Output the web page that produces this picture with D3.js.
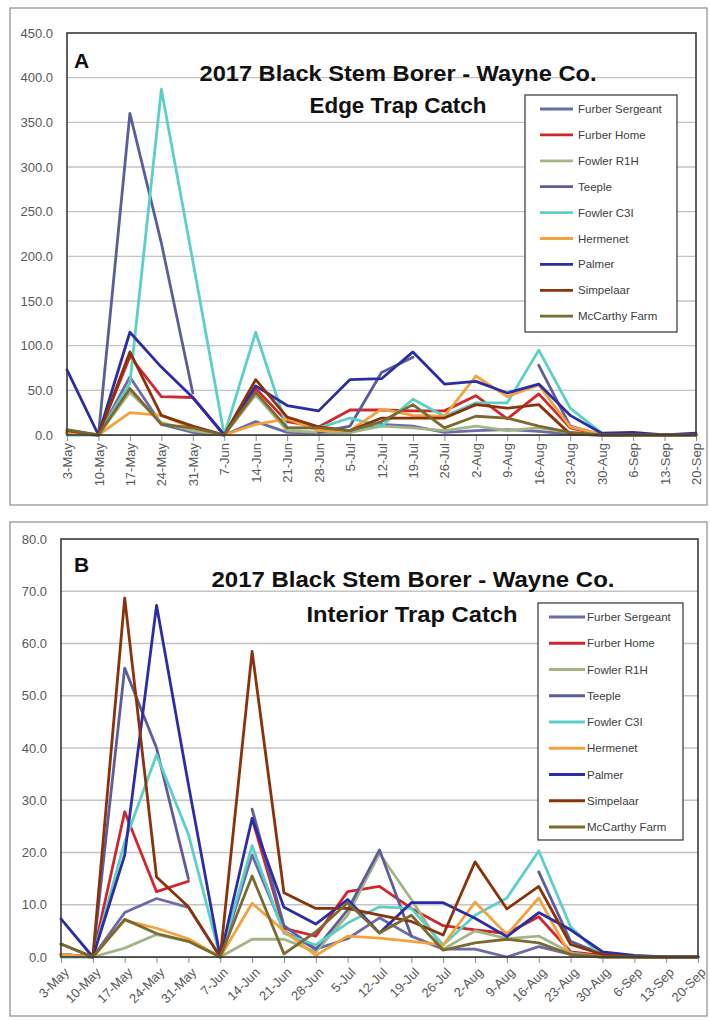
<!DOCTYPE html>
<html><head><meta charset="utf-8">
<script src="https://cdn.jsdelivr.net/npm/d3@7"></script>
<style>body{margin:0;background:#fff}svg{display:block}</style>
</head><body>
<svg id="chart" width="710" height="1021"></svg>
<script>
// ---------- DATA ----------
const dates = ["3-May","10-May","17-May","24-May","31-May","7-Jun","14-Jun","21-Jun","28-Jun","5-Jul","12-Jul","19-Jul","26-Jul","2-Aug","9-Aug","16-Aug","23-Aug","30-Aug","6-Sep","13-Sep","20-Sep"];
const seriesNames = ["Furber Sergeant","Furber Home","Fowler R1H","Teeple","Fowler C3I","Hermenet","Palmer","Simpelaar","McCarthy Farm"];
const seriesColors = ["#6b6bab","#d2262c","#a3b585","#5d5d9b","#5ccfc6","#f3a23c","#2c2ca6","#8a3209","#7b6a2f"];

// Edge trap catch (panel A)
const edgeFurberSergeant = [3,0,65,12,3,0,15,3,2,3,12,10,3,5,6,4,1,0,0,0,0];
const edgeFurberHome     = [2,0,88,43,42,0,52,15,9,28,28,27,27,44,18,46,8,0,0,0,0];
const edgeFowlerR1H      = [2,0,48,14,5,0,45,5,3,3,10,8,5,10,5,8,3,0,0,0,0];
const edgeTeeple         = [2,0,360,215,47,null,null,null,3,10,70,87,null,null,null,78,10,0,0,0,0];
const edgeFowlerC3I      = [0,0,58,387,195,0,115,8,8,19,10,40,21,36,36,95,30,2,0,0,0];
const edgeHermenet       = [2,0,25,22,8,0,12,18,5,5,29,22,21,66,43,56,9,1,0,0,0];
const edgePalmer         = [73,0,115,76,42,0,55,33,27,62,63,93,57,60,47,57,22,2,3,0,2];
const edgeSimpelaar      = [5,0,93,22,10,0,62,20,9,5,19,19,19,34,30,34,1,0,0,0,0];
const edgeMcCarthyFarm   = [6,0,52,12,8,0,48,8,8,5,15,34,8,21,19,10,3,0,0,0,0];

// Interior trap catch (panel B)
const intFurberSergeant = [0.5,0,8.5,11.2,9.5,0,19.5,5,1.5,3.5,7.5,4,1.5,1.5,0,2,0.5,0,0,0,0];
const intFurberHome     = [0.5,0,27.8,12.5,14.5,null,26.5,5.5,4,12.5,13.5,9.3,6,5.2,4.5,7.7,1,0.3,0,0,0];
const intFowlerR1H      = [0.5,0,1.7,4.3,3,0,3.4,3.4,1,8,19.8,11,1.5,5,3.5,4,0.8,0,0,0,0];
const intTeeple         = [0.5,0,55.3,40,15,null,28.3,6,1.5,9,20.5,4,null,null,null,16.3,3,0.5,0,0,0];
const intFowlerC3I      = [0,0,22,38.7,23.5,0,21.3,4.5,2.3,6.5,9.6,9.3,2.3,8,11.3,20.3,5.8,0,0,0,0];
const intHermenet       = [0.5,0,7,5.5,3.5,0,10.3,5,0.3,4,3.6,3,2.3,10.5,4.3,11.3,0.2,0,0,0,0];
const intPalmer         = [7.3,0,19.5,67.3,33,0,26.5,9.5,6.3,11,4.6,10.4,10.4,7.4,3.9,8.5,5.2,1,0.3,0,0];
const intSimpelaar      = [2.5,0,68.7,15.3,9.6,0,58.5,12.3,9.3,9.3,8,6.8,4.2,18.2,9.2,13.5,2.4,0.5,0,0,0];
const intMcCarthyFarm   = [2.5,0,7.2,4.5,3,0,15.5,0.6,4.8,10.4,4.6,8,1.3,2.7,3.4,2.7,0.5,0,0,0,0];

const titleLine1 = "2017 Black Stem Borer - Wayne Co.";
const edgeTitle2 = "Edge Trap Catch";
const intTitle2 = "Interior Trap Catch";

// ---------- LAYOUT ----------
const panels = [
  { letter:"A", series:[edgeFurberSergeant,edgeFurberHome,edgeFowlerR1H,edgeTeeple,edgeFowlerC3I,edgeHermenet,edgePalmer,edgeSimpelaar,edgeMcCarthyFarm],
    frame:{x:10,y:8,w:697,h:497}, plot:{l:67,t:33,r:696,b:435}, yMax:450, yStep:50, rot:-90,
    t1:{cx:398,y:81,w:397}, t2:{text:edgeTitle2,cx:398,y:113,w:177}, letterPos:{x:74,y:68},
    legend:{x:525,y:95,w:152,h:237,row0:109,dy:25.9,l0:540,l1:573,tx:578} },
  { letter:"B", series:[intFurberSergeant,intFurberHome,intFowlerR1H,intTeeple,intFowlerC3I,intHermenet,intPalmer,intSimpelaar,intMcCarthyFarm],
    frame:{x:10,y:522,w:697,h:494}, plot:{l:61,t:539,r:698,b:957}, yMax:80, yStep:10, rot:-45,
    t1:{cx:413,y:587,w:403}, t2:{text:intTitle2,cx:412,y:622,w:211}, letterPos:{x:74,y:572},
    legend:{x:538,y:603,w:145,h:237,row0:617,dy:26.25,l0:549,l1:585,tx:587} }
];

const svg = d3.select("#chart");
svg.append("rect").attr("width",710).attr("height",1021).attr("fill","#fff");
const FONT = "'Liberation Sans', Arial, sans-serif";

panels.forEach(p => {
  const g = svg.append("g");
  g.append("rect").attr("x",p.frame.x).attr("y",p.frame.y).attr("width",p.frame.w).attr("height",p.frame.h)
    .attr("fill","#fff").attr("stroke","#8c8c8c").attr("stroke-width",1.2);

  const x = d3.scalePoint().domain(dates).range([p.plot.l, p.plot.r]);
  const y = d3.scaleLinear().domain([0,p.yMax]).range([p.plot.b, p.plot.t]);

  // gridlines
  g.append("g").selectAll("line").data(d3.range(p.yStep, p.yMax, p.yStep)).join("line")
    .attr("x1",p.plot.l).attr("x2",p.plot.r).attr("y1",d=>y(d)).attr("y2",d=>y(d))
    .attr("stroke","#c4c4c4").attr("stroke-width",1.3);

  // y axis labels
  const ya = g.append("g").attr("transform",`translate(${p.plot.l},0)`)
    .call(d3.axisLeft(y).tickValues(d3.range(0,p.yMax+1,p.yStep)).tickFormat(d3.format(".1f")).tickSize(0).tickPadding(14));
  ya.select(".domain").remove();
  ya.selectAll("text").attr("fill","#595959").style("font-family",FONT).style("font-size","13px");

  // x axis
  const xa = g.append("g").attr("transform",`translate(0,${p.plot.b})`)
    .call(d3.axisBottom(x).tickSize(6));
  xa.select(".domain").attr("stroke","#8c8c8c");
  xa.selectAll(".tick line").attr("stroke","#8c8c8c");
  const xt = xa.selectAll("text").attr("fill","#595959").style("font-family",FONT).style("font-size","13px")
    .attr("text-anchor","end");
  if (p.rot === -90) {
    xt.attr("transform","rotate(-90)").attr("x",-8).attr("y",0).attr("dy","0.35em");
  } else {
    xt.attr("transform","translate(5,13) rotate(-45)").attr("x",0).attr("y",0).attr("dy","0.35em");
  }

  // series lines
  const line = d3.line().defined(d => d.v !== null).x(d => x(d.k)).y(d => y(d.v));
  p.series.forEach((vals, i) => {
    g.append("path").datum(dates.map((k,j)=>({k, v: vals[j]})))
      .attr("d", line).attr("fill","none").attr("stroke", seriesColors[i])
      .attr("stroke-width",2.8).attr("stroke-linejoin","round").attr("stroke-linecap","round");
  });

  // plot border
  g.append("rect").attr("x",p.plot.l).attr("y",p.plot.t).attr("width",p.plot.r-p.plot.l).attr("height",p.plot.b-p.plot.t)
    .attr("fill","none").attr("stroke","#3a3a3a").attr("stroke-width",1.6);

  // titles
  g.append("text").attr("x",p.t1.cx).attr("y",p.t1.y).attr("text-anchor","middle")
    .attr("textLength",p.t1.w).attr("lengthAdjust","spacingAndGlyphs")
    .style("font-family",FONT).style("font-weight","bold").style("font-size","22px").attr("fill","#111")
    .text(titleLine1);
  g.append("text").attr("x",p.t2.cx).attr("y",p.t2.y).attr("text-anchor","middle")
    .attr("textLength",p.t2.w).attr("lengthAdjust","spacingAndGlyphs")
    .style("font-family",FONT).style("font-weight","bold").style("font-size","22px").attr("fill","#111")
    .text(p.t2.text);
  g.append("text").attr("x",p.letterPos.x).attr("y",p.letterPos.y)
    .style("font-family",FONT).style("font-weight","bold").style("font-size","21px").attr("fill","#111")
    .text(p.letter);

  // legend
  const L = p.legend;
  g.append("rect").attr("x",L.x).attr("y",L.y).attr("width",L.w).attr("height",L.h)
    .attr("fill","#fff").attr("stroke","#333").attr("stroke-width",1.2);
  const items = g.append("g").selectAll("g").data(seriesNames).join("g")
    .attr("transform",(d,i)=>`translate(0,${L.row0 + i*L.dy})`);
  items.append("line").attr("x1",L.l0).attr("x2",L.l1).attr("y1",0).attr("y2",0)
    .attr("stroke",(d,i)=>seriesColors[i]).attr("stroke-width",2.8);
  items.append("text").attr("x",L.tx).attr("y",0).attr("dy","0.35em")
    .style("font-family",FONT).style("font-size","11.5px").attr("fill","#404040").text(d=>d);
});
</script>
</body></html>
